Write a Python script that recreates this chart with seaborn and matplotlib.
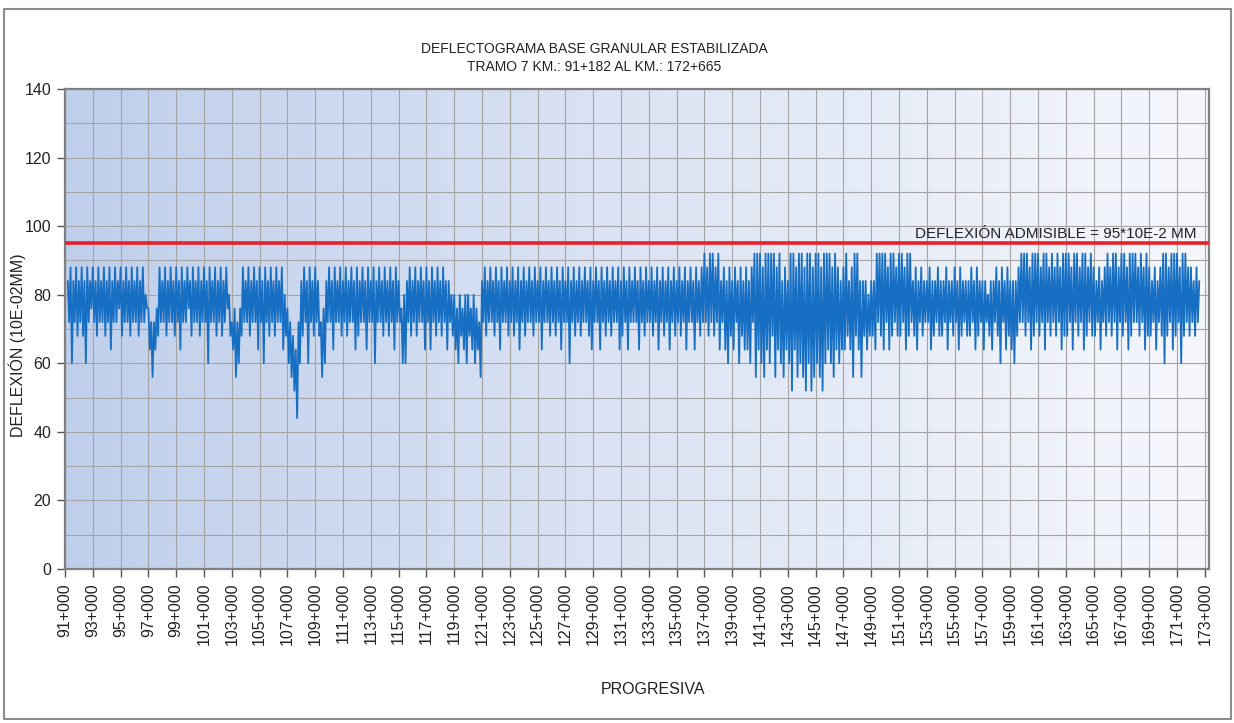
import numpy as np
import pandas as pd
import matplotlib
matplotlib.use("Agg")
import matplotlib.pyplot as plt
import seaborn as sns
from matplotlib.colors import LinearSegmentedColormap
from matplotlib.patches import Rectangle
from matplotlib.ticker import MultipleLocator, FixedLocator, NullFormatter

# deflexiones, una fila por km (cada 100 m)
# km 91 empieza en 91+200, km 172 termina en 172+600
deflexion_km = [
    [84, 72, 88, 60, 84, 72, 88, 68],                  # 91
    [84, 72, 88, 68, 84, 60, 88, 72, 84, 76],          # 92
    [88, 72, 84, 68, 88, 72, 84, 72, 88, 68],          # 93
    [84, 72, 88, 64, 84, 72, 88, 72, 84, 76],          # 94
    [88, 68, 84, 72, 88, 72, 84, 68, 88, 72],          # 95
    [84, 72, 88, 68, 84, 72, 88, 72, 80, 76],          # 96
    [76, 64, 72, 56, 72, 64, 76, 68, 88, 72],          # 97
    [84, 72, 88, 68, 84, 72, 88, 72, 84, 68],          # 98
    [88, 72, 84, 64, 88, 72, 84, 72, 88, 76],          # 99
    [84, 68, 88, 72, 84, 72, 88, 68, 84, 72],          # 100
    [88, 72, 84, 60, 88, 72, 84, 72, 88, 68],          # 101
    [84, 72, 88, 68, 84, 72, 88, 76, 80, 68],          # 102
    [72, 64, 76, 56, 72, 60, 76, 68, 88, 72],          # 103
    [84, 72, 88, 68, 84, 72, 88, 72, 84, 64],          # 104
    [88, 72, 84, 60, 88, 72, 84, 68, 88, 72],          # 105
    [84, 68, 88, 72, 84, 72, 88, 64, 80, 68],          # 106
    [76, 60, 72, 56, 68, 52, 64, 44, 72, 60],          # 107
    [84, 68, 88, 72, 84, 60, 88, 72, 84, 68],          # 108
    [88, 72, 84, 68, 72, 56, 76, 60, 84, 72],          # 109
    [88, 72, 84, 64, 88, 72, 84, 72, 88, 68],          # 110
    [84, 72, 88, 68, 84, 72, 88, 72, 84, 64],          # 111
    [88, 68, 84, 72, 88, 72, 84, 64, 88, 72],          # 112
    [84, 72, 88, 60, 84, 72, 88, 72, 84, 68],          # 113
    [88, 72, 84, 68, 88, 72, 84, 64, 88, 72],          # 114
    [84, 72, 76, 60, 80, 60, 84, 72, 88, 68],          # 115
    [84, 72, 88, 68, 84, 72, 88, 72, 84, 64],          # 116
    [88, 72, 84, 64, 88, 72, 84, 68, 88, 72],          # 117
    [84, 68, 88, 72, 84, 64, 84, 72, 80, 68],          # 118
    [80, 64, 76, 60, 80, 68, 76, 64, 80, 60],          # 119
    [80, 68, 76, 64, 80, 60, 76, 64, 72, 56],          # 120
    [84, 72, 88, 68, 84, 72, 88, 72, 84, 68],          # 121
    [88, 72, 84, 64, 88, 72, 84, 72, 88, 68],          # 122
    [84, 72, 88, 68, 84, 72, 88, 64, 84, 72],          # 123
    [88, 68, 84, 72, 88, 72, 84, 68, 88, 72],          # 124
    [84, 72, 88, 64, 84, 72, 88, 72, 84, 68],          # 125
    [88, 72, 84, 68, 88, 72, 84, 64, 88, 72],          # 126
    [84, 72, 88, 60, 84, 72, 88, 68, 84, 72],          # 127
    [88, 68, 84, 72, 88, 72, 84, 68, 88, 64],          # 128
    [84, 72, 88, 72, 84, 64, 88, 72, 84, 68],          # 129
    [88, 72, 84, 68, 88, 72, 84, 72, 88, 64],          # 130
    [84, 68, 88, 72, 84, 64, 88, 72, 84, 72],          # 131
    [88, 72, 84, 64, 88, 72, 84, 68, 88, 72],          # 132
    [84, 72, 88, 68, 84, 72, 88, 64, 84, 72],          # 133
    [88, 68, 84, 72, 88, 64, 84, 72, 88, 68],          # 134
    [84, 72, 88, 68, 84, 72, 88, 64, 84, 72],          # 135
    [88, 72, 84, 64, 88, 72, 84, 68, 88, 72],          # 136
    [92, 72, 88, 68, 92, 72, 92, 68, 88, 72],          # 137
    [92, 64, 84, 72, 88, 64, 84, 60, 88, 68],          # 138
    [84, 64, 88, 72, 84, 60, 88, 68, 84, 64],          # 139
    [88, 64, 84, 60, 88, 72, 92, 56, 92, 64],          # 140
    [92, 60, 88, 56, 92, 64, 92, 60, 92, 68],          # 141
    [92, 56, 88, 64, 92, 60, 84, 56, 88, 64],          # 142
    [84, 60, 92, 52, 92, 64, 88, 56, 92, 60],          # 143
    [92, 56, 88, 52, 92, 60, 92, 52, 88, 56],          # 144
    [92, 60, 92, 56, 88, 52, 92, 60, 92, 64],          # 145
    [92, 60, 88, 56, 92, 64, 88, 60, 84, 64],          # 146
    [88, 64, 92, 68, 84, 64, 88, 56, 92, 68],          # 147
    [92, 64, 84, 56, 84, 68, 84, 64, 80, 68],          # 148
    [84, 68, 84, 64, 92, 72, 92, 68, 92, 64],          # 149
    [92, 72, 88, 64, 92, 68, 92, 72, 88, 68],          # 150
    [92, 68, 92, 72, 88, 64, 92, 68, 92, 72],          # 151
    [84, 68, 88, 64, 84, 72, 88, 68, 84, 72],          # 152
    [84, 72, 88, 64, 84, 68, 84, 72, 88, 68],          # 153
    [84, 68, 84, 72, 88, 64, 84, 72, 84, 68],          # 154
    [88, 72, 84, 64, 88, 68, 84, 72, 84, 68],          # 155
    [84, 68, 88, 72, 84, 64, 88, 68, 84, 72],          # 156
    [84, 64, 84, 72, 80, 68, 84, 64, 84, 72],          # 157
    [88, 68, 84, 60, 88, 72, 84, 64, 88, 68],          # 158
    [84, 64, 84, 60, 84, 68, 88, 72, 92, 72],          # 159
    [92, 68, 92, 72, 88, 64, 92, 68, 92, 72],          # 160
    [92, 68, 88, 72, 92, 64, 92, 72, 88, 68],          # 161
    [92, 72, 88, 68, 92, 72, 88, 64, 92, 68],          # 162
    [92, 68, 92, 72, 88, 64, 92, 72, 92, 68],          # 163
    [88, 72, 92, 64, 92, 68, 88, 72, 92, 68],          # 164
    [88, 68, 84, 72, 88, 64, 84, 72, 88, 68],          # 165
    [92, 72, 88, 68, 92, 72, 92, 64, 88, 72],          # 166
    [92, 68, 92, 72, 88, 64, 92, 68, 92, 72],          # 167
    [92, 72, 88, 68, 92, 72, 88, 64, 92, 68],          # 168
    [88, 68, 84, 72, 88, 64, 84, 72, 88, 68],          # 169
    [92, 60, 92, 68, 88, 72, 92, 64, 92, 68],          # 170
    [92, 72, 88, 60, 92, 68, 92, 72, 88, 68],          # 171
    [88, 72, 84, 68, 88, 72, 84],                      # 172
]
deflexion_admisible = 95
inicio_km = 91.2
paso_km = 0.1
km_ticks = list(range(91, 174, 2))
km_labels = [f"{k}+000" for k in km_ticks]

deflexion = [v for fila in deflexion_km for v in fila]
progresiva = np.round(inicio_km + paso_km * np.arange(len(deflexion)), 1)
df = pd.DataFrame({"progresiva": progresiva, "deflexion": deflexion})

sns.set_theme(style="white")
plt.rcParams['font.family'] = ['Liberation Sans', 'DejaVu Sans']

W, H = 1234, 723
fig = plt.figure(figsize=(W / 100, H / 100), dpi=100)
fig.patch.set_facecolor("white")
ax = fig.add_axes([65 / W, 1 - 569 / H, (1209 - 65) / W, (569 - 89) / H])

# fondo degradado del area de trazado
fondo = LinearSegmentedColormap.from_list("fondo", ["#bfcfeb", "#dce4f4", "#f5f7fc"])
grad = np.linspace(0, 1, 256).reshape(1, -1)
ax.imshow(grad, extent=[0, 1, 0, 1], transform=ax.transAxes, aspect="auto",
          cmap=fondo, zorder=0, interpolation="bicubic")

sns.lineplot(data=df, x="progresiva", y="deflexion", ax=ax, color="#176fc4",
             linewidth=1.3, estimator=None, sort=False, zorder=2)
ax.axhline(deflexion_admisible, color="#e8202a", linewidth=2.6, zorder=3)
ax.text(172.4, deflexion_admisible + 0.8, "DEFLEXIÓN ADMISIBLE = 95*10E-2 MM",
        ha="right", va="bottom", fontsize=11, color="#222222", zorder=4)

ax.set_xlim(91, 173.3)
ax.set_ylim(0, 140)
ax.set_aspect("auto")

ax.xaxis.set_major_locator(FixedLocator(km_ticks))
ax.set_xticklabels(km_labels, rotation=90, fontsize=11.5, color="#222222")
ax.yaxis.set_major_locator(MultipleLocator(20))
ax.yaxis.set_minor_locator(MultipleLocator(10))
ax.yaxis.set_minor_formatter(NullFormatter())
ax.tick_params(axis="y", which="major", labelsize=11.5, labelcolor="#222222",
               length=6, width=1, color="#555555", left=True, pad=4)
ax.tick_params(axis="y", which="minor", length=0)
ax.tick_params(axis="x", which="major", length=6, width=1, color="#555555",
               bottom=True, pad=4)

ax.set_axisbelow(True)
ax.grid(True, axis="x", which="major", color="#a4a4a4", linewidth=0.8)
ax.grid(True, axis="y", which="both", color="#a4a4a4", linewidth=0.8)
for lado, sp in ax.spines.items():
    sp.set_color("#808080")
    sp.set_linewidth(1.6)

ax.set_xlabel("")
ax.set_ylabel("")
fig.text(17 / W, 1 - 345 / H, "DEFLEXIÓN (10E-02MM)", rotation=90, ha="center",
         va="center", fontsize=11.5, color="#222222")
fig.text(653 / W, 1 - 690 / H, "PROGRESIVA", ha="center", va="center",
         fontsize=11.5, color="#222222")
fig.text(594 / W, 1 - 49 / H, "DEFLECTOGRAMA BASE GRANULAR ESTABILIZADA",
         ha="center", va="center", fontsize=10, color="#222222")
fig.text(594 / W, 1 - 67 / H, "TRAMO 7 KM.: 91+182 AL KM.: 172+665",
         ha="center", va="center", fontsize=10, color="#222222")

# marco exterior del grafico
fig.patches.append(Rectangle((4 / W, 4 / H), (1231 - 4) / W, (714 - 4) / H,
                             transform=fig.transFigure, fill=False,
                             edgecolor="#8c8c8c", linewidth=1.5))

fig.savefig("out.png", dpi=100)
